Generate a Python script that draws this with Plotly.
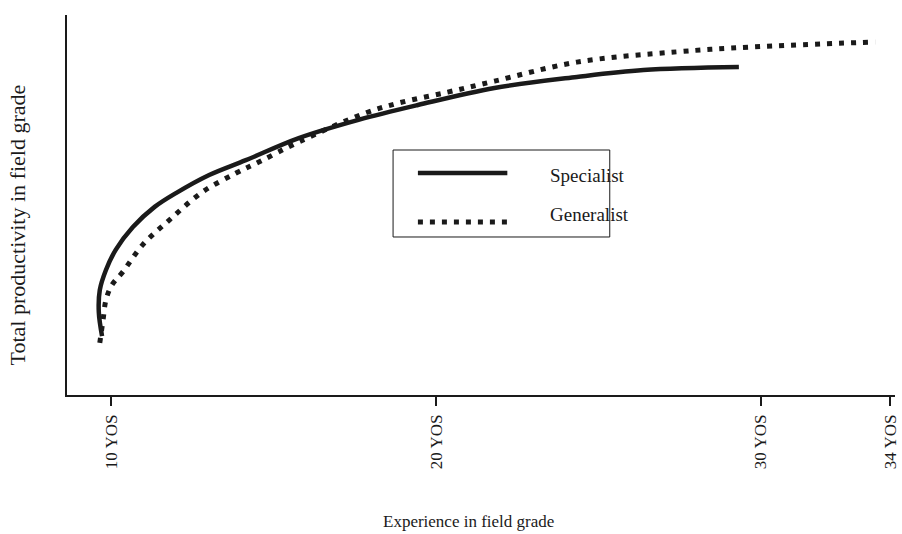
"""
Specialist vs generalist productivity curves over years of service.
"""
import plotly.graph_objects as go

# Years of service (x) and total productivity (arbitrary 0-100 scale, y)
specialist_yos = [9.71, 9.61, 9.64, 9.83, 10.13, 10.66, 11.33, 12.0, 13.01,
                  14.14, 15.77, 17.61, 19.44, 21.8, 24.34, 26.39, 29.33]
specialist_prod = [15.5, 21.8, 27.6, 32.9, 38.2, 44.2, 49.5, 53.2, 57.9,
                   61.8, 67.6, 72.4, 76.3, 80.8, 83.7, 85.5, 86.3]

generalist_yos = [9.64, 9.74, 9.83, 10.01, 10.35, 10.96, 11.79, 12.8, 13.84,
                  14.54, 15.77, 17.82, 18.83, 20.36, 21.8, 24.34, 27.41, 29.76, 33.53]
generalist_prod = [13.7, 19.7, 25.0, 28.9, 32.4, 39.5, 46.1, 53.4, 58.4,
                   61.3, 66.6, 74.2, 76.8, 79.7, 82.6, 87.6, 90.3, 91.6, 92.9]

tick_vals = [10, 20, 30, 34]
tick_text = ['10 YOS', '20 YOS', '30 YOS', '34 YOS']

FONT = 'Liberation Serif'
INK = '#1a1a1a'
DOT_DASH = '5px,7px'

fig = go.Figure()

fig.add_trace(go.Scatter(
    x=specialist_yos, y=specialist_prod,
    mode='lines', line=dict(color=INK, width=4.5, shape='spline'),
    name='Specialist', showlegend=False
))
fig.add_trace(go.Scatter(
    x=generalist_yos, y=generalist_prod,
    mode='lines', line=dict(color=INK, width=5, dash=DOT_DASH, shape='spline'),
    name='Generalist', showlegend=False
))

# Hand-drawn style legend box
shapes = [
    dict(type='rect', xref='paper', yref='paper', x0=0.3938, x1=0.6555,
         y0=0.4158, y1=0.6447, line=dict(color=INK, width=1)),
    dict(type='line', xref='paper', yref='paper', x0=0.4238, x1=0.5318,
         y0=0.5842, y1=0.5842, line=dict(color=INK, width=4.5)),
    dict(type='line', xref='paper', yref='paper', x0=0.4238, x1=0.5318,
         y0=0.4553, y1=0.4553, line=dict(color=INK, width=5, dash=DOT_DASH)),
]

annotations = [
    dict(text='Specialist', x=0.5810, y=0.5789, xref='paper', yref='paper',
         xanchor='left', yanchor='middle', showarrow=False,
         font=dict(family=FONT, size=19, color=INK)),
    dict(text='Generalist', x=0.5810, y=0.4763, xref='paper', yref='paper',
         xanchor='left', yanchor='middle', showarrow=False,
         font=dict(family=FONT, size=19, color=INK)),
    dict(text='Experience in field grade', x=0.4850, y=-0.334, xref='paper', yref='paper',
         xanchor='center', yanchor='middle', showarrow=False,
         font=dict(family=FONT, size=17, color=INK)),
    dict(text='Total productivity in field grade', x=-0.060, y=0.447, xref='paper', yref='paper',
         xanchor='center', yanchor='middle', textangle=-90, showarrow=False,
         font=dict(family=FONT, size=22, color=INK)),
]

fig.update_layout(
    width=902, height=534,
    margin=dict(l=67, r=2, t=15, b=139),
    plot_bgcolor='white', paper_bgcolor='white',
    shapes=shapes, annotations=annotations,
    xaxis=dict(range=[8.63, 34.14], showgrid=False, zeroline=False,
               showline=True, linecolor=INK, linewidth=1.5,
               tickmode='array', tickvals=tick_vals, ticktext=tick_text,
               ticks='outside', ticklen=9, tickcolor=INK, tickwidth=1.5,
               tickangle=-90, ticklabelstandoff=2, ticklabeloverflow='allow',
               tickfont=dict(family=FONT, size=17, color=INK)),
    xaxis2=dict(range=[8.63, 34.14], overlaying='x', anchor='y', side='bottom',
                showgrid=False, zeroline=False, showline=False,
                tickmode='array', tickvals=tick_vals, showticklabels=False,
                ticks='inside', ticklen=13, tickcolor=INK, tickwidth=1.5),
    yaxis=dict(range=[0, 100], showgrid=False, zeroline=False,
               showline=True, linecolor=INK, linewidth=1.5,
               showticklabels=False, ticks=''),
)

# sit flush in the window and clip the last tick label at the edge, as in the original
fig.write_html("out.html", config={'displayModeBar': False}, post_script=(
    "document.documentElement.style.overflow='hidden';"
    "document.body.style.margin='0';"
    "document.body.style.overflow='hidden';"
    "var gd=document.getElementById('{plot_id}');"
    "[gd, gd.parentNode].forEach(function(el){"
    "el.style.width='902px';el.style.height='534px';"
    "el.style.overflow='clip';el.style.contain='paint';});"
))
